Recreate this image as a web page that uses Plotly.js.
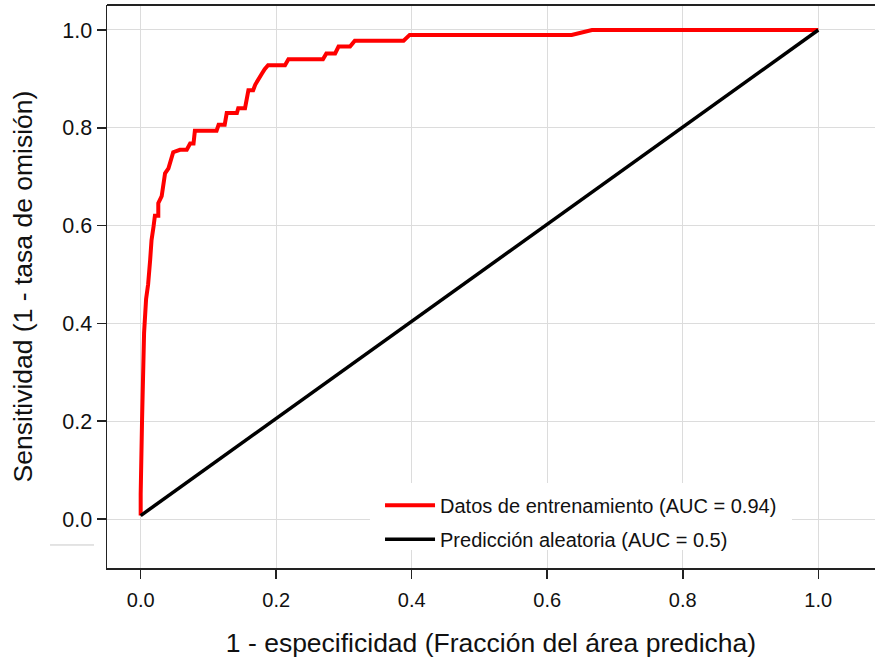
<!DOCTYPE html>
<html>
<head>
<meta charset="utf-8">
<script src="https://cdn.plot.ly/plotly-3.0.1.min.js"></script>
<style>html,body{margin:0;padding:0;background:#fff;}#chart{width:875px;height:661px;}</style>
</head>
<body>
<div id="chart"></div>
<script>
// Training data ROC curve (1 - specificity, sensitivity)
var trainFpr = [0, 0.0, 0.002, 0.003, 0.005, 0.008, 0.011, 0.014, 0.016, 0.019, 0.021, 0.026, 0.026, 0.031, 0.034, 0.036, 0.041, 0.044, 0.048, 0.048, 0.058, 0.068, 0.073, 0.078, 0.080, 0.112, 0.115, 0.124, 0.127, 0.142, 0.144, 0.154, 0.159, 0.166, 0.169, 0.174, 0.179, 0.183, 0.188, 0.213, 0.218, 0.269, 0.274, 0.287, 0.292, 0.309, 0.316, 0.388, 0.397, 0.636, 0.666, 1.0];
var trainTpr = [0.007, 0.05, 0.20, 0.28, 0.38, 0.45, 0.48, 0.53, 0.57, 0.598, 0.62, 0.62, 0.646, 0.66, 0.69, 0.707, 0.717, 0.73, 0.744, 0.75, 0.755, 0.755, 0.768, 0.768, 0.794, 0.794, 0.806, 0.806, 0.83, 0.83, 0.84, 0.84, 0.877, 0.877, 0.888, 0.901, 0.911, 0.92, 0.928, 0.928, 0.94, 0.94, 0.952, 0.952, 0.966, 0.966, 0.978, 0.978, 0.99, 0.99, 1.0, 1.0];
// Random prediction line
var randFpr = [0, 1];
var randTpr = [0.007, 1];
var seriesNames = ["Datos de entrenamiento (AUC = 0.94)", "Predicción aleatoria (AUC = 0.5)"];
var tickVals = [0, 0.2, 0.4, 0.6, 0.8, 1.0];
var tickText = ["0.0", "0.2", "0.4", "0.6", "0.8", "1.0"];

var FONT = "Liberation Sans, Arial, sans-serif";

var traces = [
  {x: trainFpr, y: trainTpr, mode: "lines", name: seriesNames[0], legendgroup: "a",
   line: {color: "#ff0000", width: 4}},
  {x: randFpr, y: randTpr, mode: "lines", name: seriesNames[1], legendgroup: "b",
   line: {color: "#000000", width: 3.5}}
];

var layout = {
  width: 875, height: 661,
  margin: {l: 107, r: 0, t: 5, b: 93},
  paper_bgcolor: "#ffffff", plot_bgcolor: "#ffffff",
  font: {family: FONT, color: "#000000"},
  showlegend: true,
  legend: {x: 0.3555, y: 0.146, xanchor: "left", yanchor: "top",
    bgcolor: "rgba(0,0,0,0)", borderwidth: 0, tracegroupgap: 5,
    font: {family: FONT, size: 20, color: "#111"}, itemwidth: 50},
  xaxis: {
    range: [-0.0497, 1.0837], tickvals: tickVals, ticktext: tickText,
    showgrid: true, gridcolor: "#dcdcdc", gridwidth: 1, zeroline: false,
    showline: true, linecolor: "#222", linewidth: 1.5,
    ticks: "outside", ticklen: 9, tickwidth: 1.5, tickcolor: "#222",
    ticklabelstandoff: 4,
    tickfont: {family: FONT, size: 20, color: "#111"},
    title: {text: "1 - especificidad (Fracción del área predicha)", font: {family: FONT, size: 26.5, color: "#111"}, standoff: 24}
  },
  yaxis: {
    range: [-0.1002, 1.0511], tickvals: tickVals, ticktext: tickText,
    showgrid: true, gridcolor: "#dcdcdc", gridwidth: 1, zeroline: false,
    showline: true, linecolor: "#222", linewidth: 1.5,
    ticks: "outside", ticklen: 9, tickwidth: 1.5, tickcolor: "#222",
    tickfont: {family: FONT, size: 21.5, color: "#111"},
    title: {text: "Sensitividad (1 - tasa de omisión)", font: {family: FONT, size: 26.5, color: "#111"}, standoff: 22}
  },
  shapes: [
    {type: "line", xref: "paper", yref: "paper", x0: 0, x1: 1, y0: 1, y1: 1, line: {color: "#222", width: 2}},
    {type: "rect", xref: "paper", yref: "paper", x0: 0.3424, x1: 0.8919, y0: 0.032, y1: 0.151, fillcolor: "#ffffff", line: {width: 0}, layer: "above"},
    {type: "line", xref: "paper", yref: "paper", x0: -0.0742, x1: -0.0169, y0: 0.0409, y1: 0.0409, line: {color: "#c8c8c8", width: 1}}
  ]
};

Plotly.newPlot("chart", traces, layout, {displayModeBar: false, staticPlot: true});
</script>
</body>
</html>
